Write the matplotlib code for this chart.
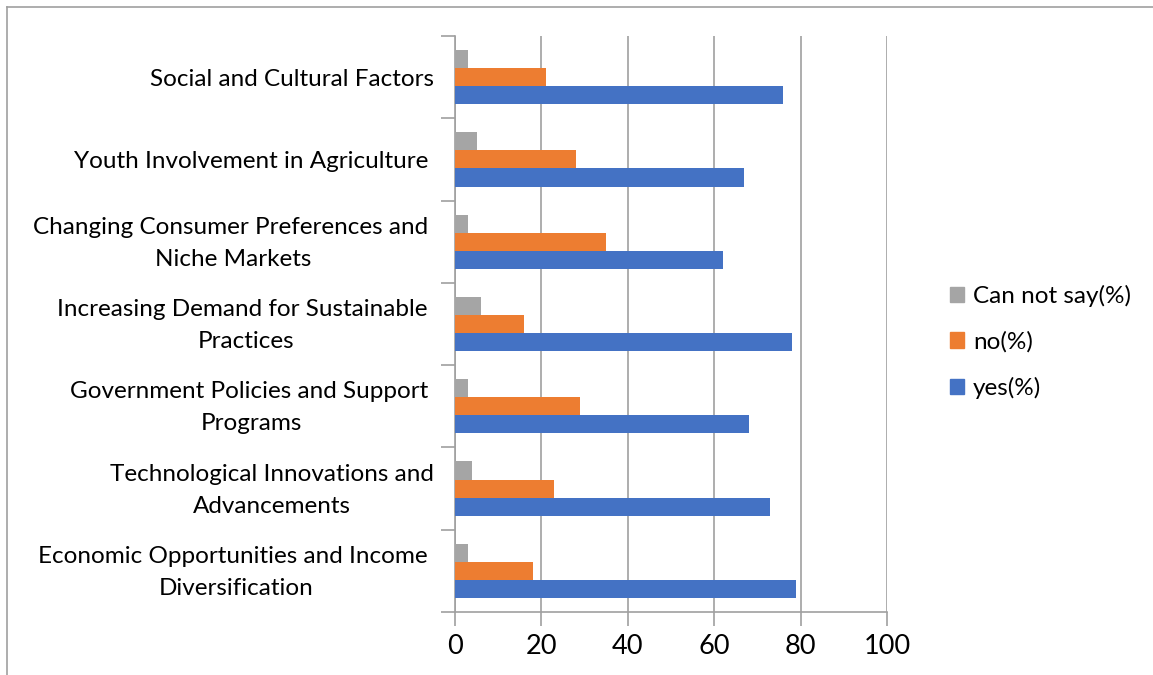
import numpy as np
import matplotlib
matplotlib.use("Agg")
from matplotlib import pyplot as plt
import matplotlib.ticker as tic
import matplotlib.transforms as mtrans
from matplotlib.patches import Patch

plt.rcParams['font.family'] = ['Lato', 'DejaVu Sans']

categories = ["Economic Opportunities and Income \nDiversification",
              "Technological Innovations and\nAdvancements",
              "Government Policies and Support \nPrograms",
              "Increasing Demand for Sustainable \nPractices",
              "Changing Consumer Preferences and \nNiche Markets",
              "Youth Involvement in Agriculture ",
              "Social and Cultural Factors"]
yes = [79, 73, 68, 78, 62, 67, 76]
no = [18, 23, 29, 16, 35, 28, 21]
cns = [3, 4, 3, 6, 3, 5, 3]

c_yes = '#4472C4'
c_no = '#ED7D31'
c_cns = '#A5A5A5'

fig = plt.figure(figsize=(11.53, 6.75), dpi=100)
ax = fig.add_axes([455/1153, 1-612/675, 432/1153, 576/675])

y = np.arange(len(categories))
h = 0.22
ax.barh(y - h, yes, height=h, color=c_yes, zorder=3)
ax.barh(y, no, height=h, color=c_no, zorder=3)
ax.barh(y + h, cns, height=h, color=c_cns, zorder=3)

ax.set_xlim(0, 100)
ax.set_ylim(-0.5, len(categories) - 0.5)
ax.xaxis.set_major_locator(tic.MultipleLocator(20))
ax.set_yticks(y)
ax.set_yticklabels(categories, fontsize=17.5, multialignment='center', linespacing=1.65)
ax.set_yticks(np.arange(-0.5, len(categories), 1), minor=True)
ax.tick_params(axis='y', which='major', length=0, pad=15)
ax.tick_params(axis='y', which='minor', length=10, color='#a0a0a0', width=1.2)
ax.tick_params(axis='x', length=10, color='#a0a0a0', width=1.2, labelsize=19.5, pad=6)
ax.grid(axis='x', color='#a0a0a0', linewidth=1.2, zorder=0)
for s in ['top', 'right']:
    ax.spines[s].set_visible(False)
for s in ['left', 'bottom']:
    ax.spines[s].set_color('#a0a0a0')
    ax.spines[s].set_linewidth(1.2)

# nudge two-line labels up a little
up = mtrans.ScaledTranslation(0, 6/100, fig.dpi_scale_trans)
for lab in ax.get_yticklabels():
    if '\n' in lab.get_text():
        lab.set_transform(lab.get_transform() + up)

handles = [Patch(color=c_cns, label='Can not say(%)'),
           Patch(color=c_no, label='no(%)'),
           Patch(color=c_yes, label='yes(%)')]
fig.legend(handles=handles, loc='center left', bbox_to_anchor=(928/1153, 1-342/675),
           frameon=False, fontsize=17.5, handlelength=0.6, handleheight=0.6,
           handletextpad=0.35, labelspacing=1.0)

# outer chart frame
fig.add_artist(plt.Line2D([7/1153, 1.0], [1-7/675, 1-7/675], color='#a0a0a0', lw=1.2))
fig.add_artist(plt.Line2D([7/1153, 7/1153], [0, 1-7/675], color='#a0a0a0', lw=1.2))

fig.savefig('out.png', dpi=100)
